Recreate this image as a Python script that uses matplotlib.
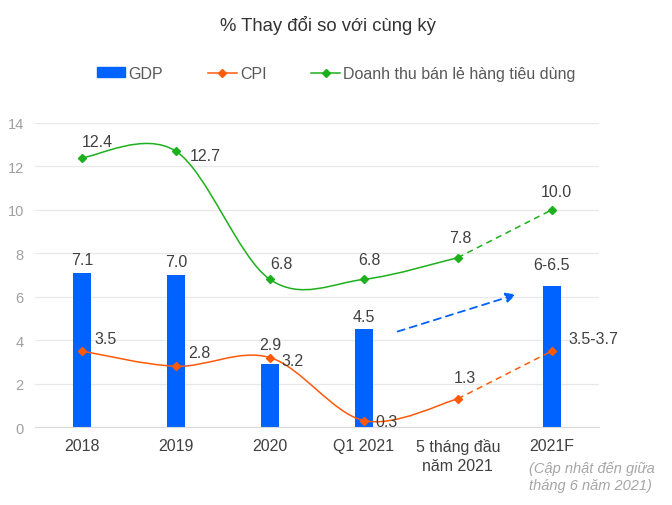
import matplotlib.pyplot as plt
import numpy as np
from matplotlib.path import Path
from matplotlib.patches import PathPatch, Patch
from matplotlib.lines import Line2D

plt.rcParams['font.family'] = ['Liberation Sans', 'DejaVu Sans']

categories = ['2018', '2019', '2020', 'Q1 2021', '5 tháng đầu\nnăm 2021', '2021F']
gdp = [7.1, 7.0, 2.9, 4.5, np.nan, 6.5]
gdp_labels = ['7.1', '7.0', '2.9', '4.5', '', '6-6.5']
cpi = [3.5, 2.8, 3.2, 0.3, 1.3, 3.5]
cpi_labels = ['3.5', '2.8', '3.2', '0.3', '1.3', '3.5-3.7']
retail = [12.4, 12.7, 6.8, 6.8, 7.8, 10.0]
retail_labels = ['12.4', '12.7', '6.8', '6.8', '7.8', '10.0']

BLUE = '#0062FF'
ORANGE = '#FF5A0A'
GREEN = '#1DB01D'
TXT = '#404040'


def smooth_path(xs, ys):
    # catmull-rom style smoothing like excel, as cubic bezier path
    pts = np.column_stack([xs, ys])
    n = len(pts)
    verts = [pts[0]]
    codes = [Path.MOVETO]
    for i in range(n - 1):
        p0 = pts[i - 1] if i > 0 else pts[i]
        p1 = pts[i]
        p2 = pts[i + 1]
        p3 = pts[i + 2] if i + 2 < n else pts[i + 1]
        c1 = p1 + (p2 - p0) / 6
        c2 = p2 - (p3 - p1) / 6
        verts += [c1, c2, p2]
        codes += [Path.CURVE4] * 3
    return Path(verts, codes)


fig = plt.figure(figsize=(6.72, 5.06), dpi=100)
ax = fig.add_axes([0.052, 0.154, 0.839, 0.601])

x = np.arange(len(categories))
ax.bar(x, gdp, 0.19, color=BLUE, zorder=2)

# smooth solid parts + dashed forecast
for vals, col in [(cpi, ORANGE), (retail, GREEN)]:
    ax.add_patch(PathPatch(smooth_path(x[:5], vals[:5]), fc='none', ec=col, lw=1.1, zorder=3))
    ax.plot(x[4:], vals[4:], color=col, lw=1.1, ls=(0, (4, 3)), zorder=3)
    ax.plot(x, vals, ls='none', marker='D', ms=4, color=col, zorder=4)

FS = 11.5

# data labels
gdp_off = [(0, 4), (0, 4), (0, 9), (0, 4), (0, 0), (0, 10)]
for i, (v, lab) in enumerate(zip(gdp, gdp_labels)):
    if lab:
        ax.annotate(lab, (x[i], v), xytext=gdp_off[i], textcoords='offset points',
                    ha='center', va='bottom', fontsize=FS, color=TXT)

cpi_off = [(9, 9), (9, 10), (8, -2), (8, -1), (5, 10), (12, 9)]
cpi_ha = ['left', 'left', 'left', 'left', 'center', 'left']
for i, lab in enumerate(cpi_labels):
    ax.annotate(lab, (x[i], cpi[i]), xytext=cpi_off[i], textcoords='offset points',
                ha=cpi_ha[i], va='bottom' if i == 4 else 'center', fontsize=FS, color=TXT)

ret_off = [(0, 6), (10, -3), (8, 6), (4, 9), (2, 9), (3, 8)]
ret_ha = ['left', 'left', 'center', 'center', 'center', 'center']
for i, lab in enumerate(retail_labels):
    ax.annotate(lab, (x[i], retail[i]), xytext=ret_off[i], textcoords='offset points',
                ha=ret_ha[i], va='bottom' if i != 1 else 'center', fontsize=FS, color=TXT)

# blue dashed arrow
ax.annotate('', xy=(4.62, 6.1), xytext=(3.36, 4.4),
            arrowprops=dict(arrowstyle='-|>,head_length=0.6,head_width=0.3', color=BLUE,
                            lw=1.3, ls=(0, (4, 3)), shrinkA=0, shrinkB=0))

ax.set_xlim(-0.5, 5.5)
ax.set_ylim(0, 14)
ax.set_yticks(range(0, 15, 2))
ax.set_xticks(x)
ax.set_xticklabels(categories, fontsize=FS, color=TXT, linespacing=1.3)
ax.tick_params(axis='y', labelsize=10.5, labelcolor='#A0A0A0', length=0, pad=8)
ax.tick_params(axis='x', length=0, pad=8)
ax.grid(axis='y', color='#E8E8E8', lw=0.9, zorder=0)
ax.set_axisbelow(True)
for s in ['top', 'right', 'left']:
    ax.spines[s].set_visible(False)
ax.spines['bottom'].set_color('#D9D9D9')

fig.text(0.787, 0.057, '(Cập nhật đến giữa\ntháng 6 năm 2021)', fontsize=10.5, style='italic',
         color='#A6A6A6', ha='left', va='center', linespacing=1.25)

fig.text(0.488, 0.949, '% Thay đổi so với cùng kỳ', fontsize=13.3, color='#333333',
         ha='center', va='center')

handles = [Patch(color=BLUE),
           Line2D([], [], color=ORANGE, marker='D', ms=4, lw=1.1),
           Line2D([], [], color=GREEN, marker='D', ms=4, lw=1.1)]
leg = fig.legend(handles, ['GDP', 'CPI', 'Doanh thu bán lẻ hàng tiêu dùng'], loc='center',
                 bbox_to_anchor=(0.5, 0.853), ncol=3, frameon=False, fontsize=11.5,
                 handlelength=1.8, handleheight=0.55, handletextpad=0.2, columnspacing=2.8)
for t in leg.get_texts():
    t.set_color('#595959')

fig.savefig('out.png', dpi=100)
